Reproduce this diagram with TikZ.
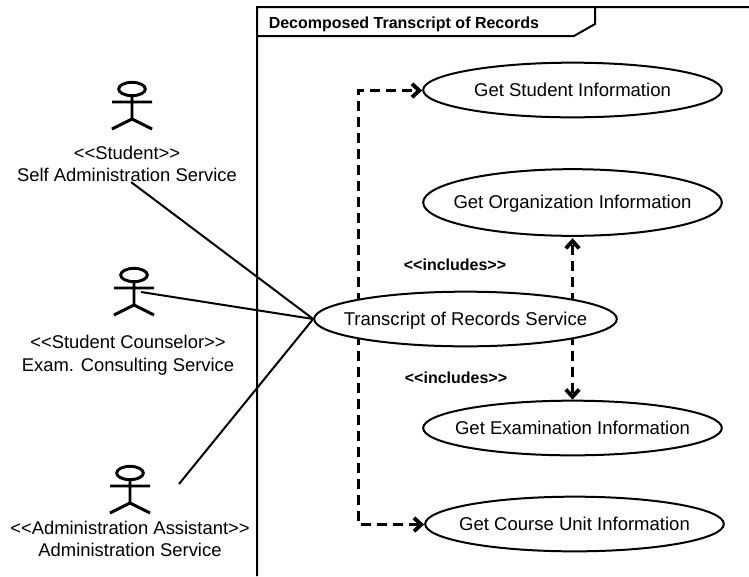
\documentclass[tikz,border=0pt]{standalone}
\usepackage{fontspec}
\setmainfont{Liberation Sans}
\usetikzlibrary{arrows.meta,shapes.geometric,backgrounds}
\tikzset{
  x=0.75pt,y=-0.75pt,
  usecase/.style={ellipse,draw,line width=1.5pt,fill=white,inner sep=0pt,minimum width=224pt,minimum height=41pt,font=\fontsize{13.9}{16}\selectfont},
  lbl/.style={align=center,font=\fontsize{13.8}{17.1}\selectfont,inner sep=0pt},
  blbl/.style={font=\fontsize{12}{14}\selectfont\bfseries,inner sep=0pt},
  assoc/.style={line width=1.5pt},
  incl/.style={line width=2.2pt,dash pattern=on 7.5pt off 4.5pt,-{Straight Barb[length=5.5pt,width=10pt,line width=2.9pt]}},
  stick/.style={line width=2.2pt},
  framestyle/.style={line width=1.5pt}
}
\newcommand{\stickman}[3]{%
  \begin{scope}[shift={(#1,#2)}]
    \node[name=#3,draw,ellipse,line width=2.2pt,minimum width=20pt,minimum height=10pt,inner sep=0pt] at (0,-13) {};
    \coordinate (#3l) at (-20,0);
    \coordinate (#3r) at (20,0);
    \coordinate (#3c) at (0,17);
    \coordinate (#3fl) at (-20,27);
    \coordinate (#3fr) at (20,27);
    \draw[stick] (#3l) -- (#3r) (#3.south) -- (#3c) (#3fl) -- (#3c) -- (#3fr);
  \end{scope}}
\newcommand{\uctext}[1]{\raisebox{-4.8pt}[0pt][0pt]{\makebox[0pt]{#1}}}
\begin{document}
\begin{tikzpicture}
\useasboundingbox (0,0) rectangle (749,576);
% frame
\coordinate (fbl) at (257,576);
\coordinate (ftl) at (257,7);
\coordinate (ftr) at (749,7);
\coordinate (ft) at (595,7);
\coordinate (fm) at (595,24);
\coordinate (fd) at (574,36);
\coordinate (fh) at (257,36);
\draw[framestyle] (fbl) -- (ftl) -- (ftr) (ft) -- (fm) -- (fd) -- (fh);
\node[blbl,anchor=west] (title) at (268.5,24.5) {Decomposed Transcript of Records};
% actors
\stickman{132}{102}{a}
\stickman{134}{288}{b}
\stickman{130}{486}{c}
\node[lbl] (al) at (127,164) {<{}<Student>{}>\\Self Administration Service};
\node[lbl] (bl) at (128,355) {<{}<Student Counselor>{}>\\Exam. Consulting Service};
\node[lbl] (cl) at (130,539) {<{}<Administration Assistant>{}>\\Administration Service};
% use cases
\node[usecase] (u1) at (572.5,90) {\uctext{Get Student Information}};
\node[usecase,minimum height=50pt] (u2) at (572.5,202.5) {\uctext{Get Organization Information}};
\node[usecase] (u3) at (572.5,428) {\uctext{Get Examination Information}};
\node[usecase] (u4) at (574.5,524) {\uctext{Get Course Unit Information}};
\node[usecase,minimum width=227pt] (m) at (465.5,319) {\uctext{Transcript of Records Service}};
\node[blbl] (i1) at (455,265) {<{}<includes>{}>};
\node[blbl] (i2) at (456,378) {<{}<includes>{}>};
% connectors
\coordinate (tr) at (358.5,319);
\coordinate (s1) at (131,182);
\coordinate (s2) at (141,292);
\coordinate (s3) at (179,484);
\begin{scope}[on background layer]
\draw[incl] (tr) |- ([yshift=-0.4pt]u1.west);
\draw[incl] (tr) |- ([yshift=-0.4pt]u4.west);
\draw[incl] (m.center -| u2.south) -- ([yshift=-1pt]u2.south);
\draw[incl] (m.center -| u3.north) -- (u3.north);
\end{scope}
\draw[assoc] (s1) -- (m.west);
\draw[assoc] (s2) -- (m.west);
\draw[assoc] (s3) -- (m.west);
\end{tikzpicture}
\end{document}
